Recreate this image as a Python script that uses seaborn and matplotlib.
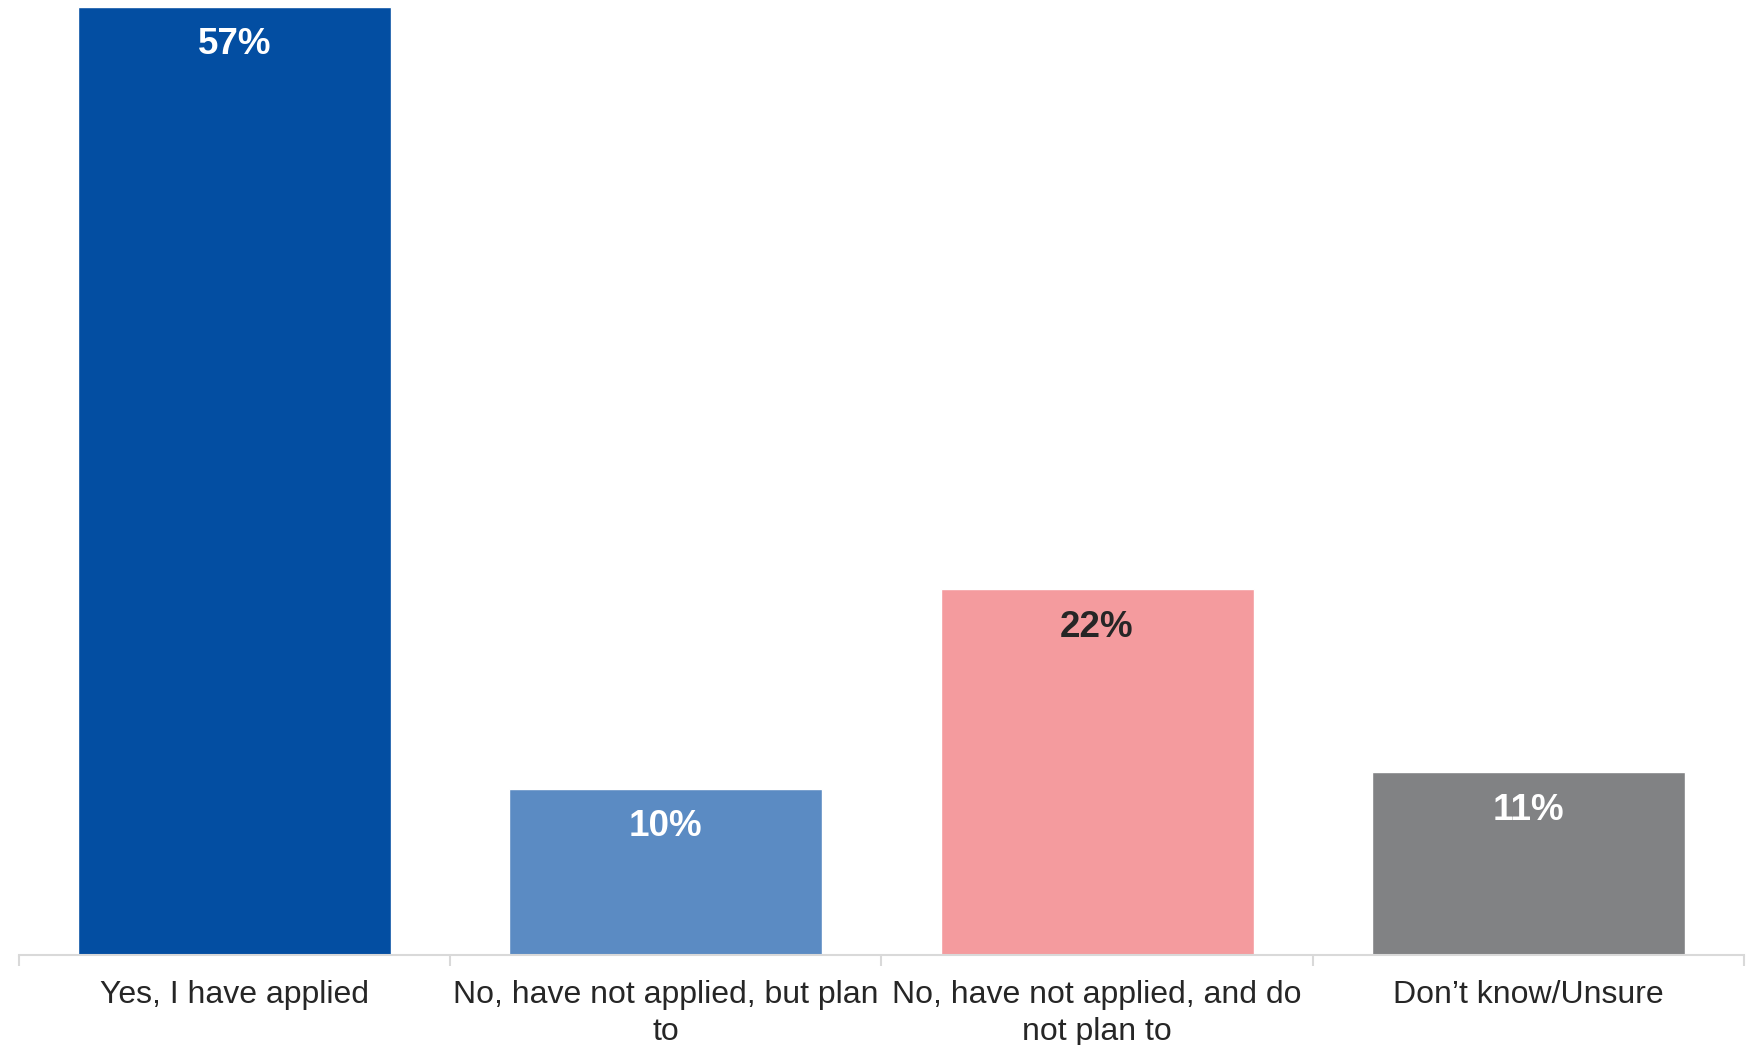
import matplotlib
matplotlib.use("Agg")
import matplotlib.pyplot as plt
import pandas as pd
import seaborn as sns

# Data
categories = ["Yes, I have applied",
              "No, have not applied, but plan\nto",
              "No, have not applied, and do\nnot plan to",
              "Don\u2019t know/Unsure"]
values = [57, 10, 22, 11]
bar_colors = ["#034ea2", "#5b8bc3", "#f49b9e", "#818284"]
label_colors = ["white", "white", "#262626", "white"]

df = pd.DataFrame({"cat": categories, "val": values})

sns.set_theme(style="white")
plt.rcParams["font.family"] = ["Liberation Sans", "DejaVu Sans"]

fig = plt.figure(figsize=(17.52, 10.45), dpi=100)
ax = fig.add_axes([0.0108, 0.0861, 0.9846, 0.9139])

sns.barplot(data=df, x="cat", y="val", hue="cat", palette=bar_colors,
            legend=False, width=0.726, saturation=1, ax=ax)

for i, (v, c) in enumerate(zip(values, label_colors)):
    ax.annotate(f"{v}%", xy=(i, v), xytext=(0, -27.5), textcoords="offset points",
                ha="center", va="center", fontsize=26.5, fontweight="bold", color=c)

ax.set_xlim(-0.5, 3.5)
ax.set_ylim(0, 57.4)
ax.set_xlabel("")
ax.set_ylabel("")
ax.set_yticks([])
for s in ["top", "right", "left"]:
    ax.spines[s].set_visible(False)
ax.spines["bottom"].set_color("#d9d9d9")
ax.spines["bottom"].set_linewidth(1.5)

ax.set_xticks(range(len(categories)))
ax.set_xticklabels(categories, fontsize=23, color="#262626", linespacing=1.3)
ax.tick_params(axis="x", which="major", length=0, pad=18)
ax.set_xticks([-0.5, 0.5, 1.5, 2.5, 3.5], minor=True)
ax.tick_params(axis="x", which="minor", length=8, width=1.5, color="#d9d9d9", bottom=True)

fig.savefig("out.png", dpi=100)
